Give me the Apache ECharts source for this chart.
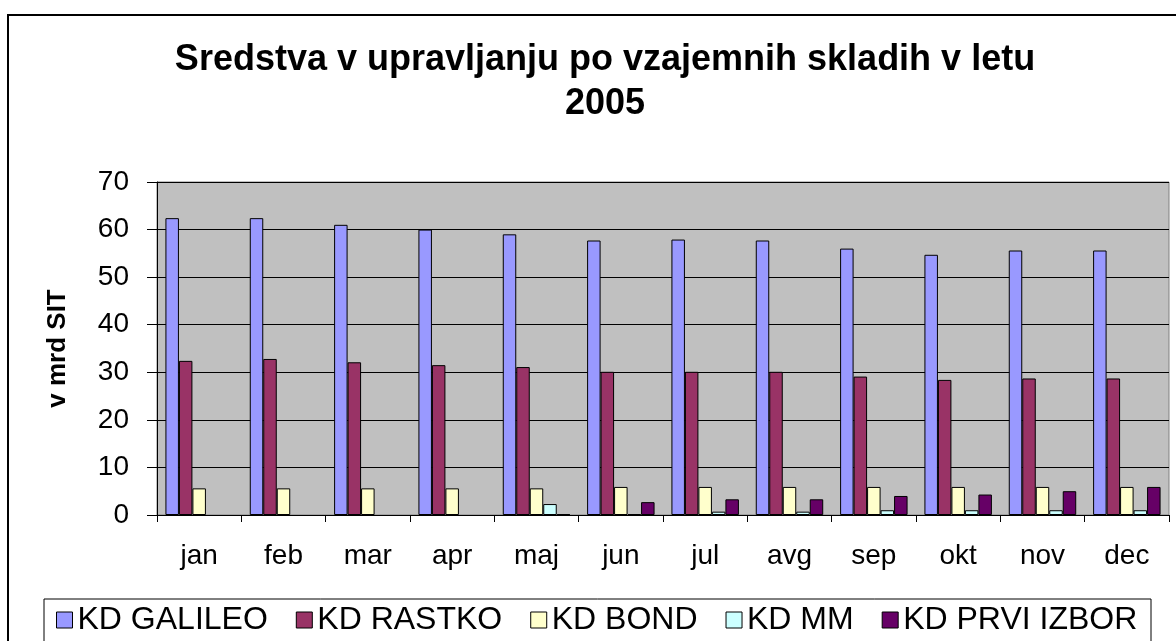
<!DOCTYPE html>
<html>
<head>
<meta charset="utf-8">
<script src="https://cdn.jsdelivr.net/npm/echarts@6/dist/echarts.min.js"></script>
<style>
  html, body { margin: 0; padding: 0; background: #fff; }
  #chart { width: 1176px; height: 641px; }
</style>
</head>
<body>
<div id="chart"></div>
<script>
  // mesecni podatki, v mrd SIT
  var months = ['jan', 'feb', 'mar', 'apr', 'maj', 'jun', 'jul', 'avg', 'sep', 'okt', 'nov', 'dec'];
  var galileo = [62.4, 62.4, 61.0, 60.0, 59.0, 57.7, 57.9, 57.7, 56.0, 54.7, 55.6, 55.6];
  var rastko = [32.4, 32.8, 32.1, 31.5, 31.1, 30.1, 30.1, 30.1, 29.1, 28.4, 28.7, 28.7];
  var bond = [5.6, 5.6, 5.6, 5.6, 5.6, 5.9, 5.9, 5.9, 5.9, 5.9, 5.9, 5.9];
  var mm = [null, null, null, null, 2.3, 0.2, 0.7, 0.7, 1.0, 1.0, 1.0, 1.0];
  var prviIzbor = [null, null, null, null, 0.2, 2.7, 3.3, 3.3, 4.0, 4.3, 5.0, 5.9];
  var yTicks = [0, 10, 20, 30, 40, 50, 60, 70];

  var seriesNames = ['KD GALILEO', 'KD RASTKO', 'KD BOND', 'KD MM', 'KD PRVI IZBOR'];
  var seriesData = [galileo, rastko, bond, mm, prviIzbor];
  var colors = ['#9999FF', '#993366', '#FFFFCC', '#CCFFFF', '#660066'];

  var font = '"Liberation Sans", Arial, sans-serif';
  var myChart = echarts.init(document.getElementById('chart'));

  var series = seriesNames.map(function (name, i) {
    return {
      name: name,
      type: 'bar',
      data: seriesData[i],
      barGap: '0%',
      barCategoryGap: '20%',
      itemStyle: {
        color: colors[i],
        borderColor: '#000',
        borderWidth: 1
      },
      emphasis: { disabled: true }
    };
  });

  var option = {
    animation: false,
    backgroundColor: '#fff',
    color: colors,
    title: {
      text: 'Sredstva v upravljanju po vzajemnih skladih v letu\n2005',
      left: 600,
      top: 33,
      textAlign: 'center',
      textStyle: {
        fontFamily: font,
        fontWeight: 'bold',
        fontSize: 36,
        lineHeight: 44,
        color: '#000'
      }
    },
    graphic: [
      {
        // okvir grafa
        type: 'rect',
        shape: { x: 8, y: 15, width: 1200, height: 700 },
        style: { fill: 'none', stroke: '#000', lineWidth: 2 },
        silent: true
      },
      {
        // okvir legende
        type: 'rect',
        shape: { x: 44, y: 599, width: 1107, height: 60 },
        style: { fill: '#fff', stroke: '#000', lineWidth: 1 },
        silent: true,
        z: -1
      }
    ],
    legend: {
      data: seriesNames,
      left: 56,
      top: 604,
      padding: 0,
      itemGap: 28,
      itemWidth: 16,
      itemHeight: 16,
      icon: 'rect',
      itemStyle: { borderColor: '#000', borderWidth: 1 },
      textStyle: {
        fontFamily: font,
        fontSize: 32,
        color: '#000'
      }
    },
    grid: {
      left: 157,
      right: 7,
      top: 182,
      bottom: 126,
      show: true,
      backgroundColor: '#C0C0C0',
      borderColor: '#808080',
      borderWidth: 1
    },
    xAxis: {
      type: 'category',
      data: months,
      axisLine: { lineStyle: { color: '#000', width: 1 } },
      axisTick: { show: true, length: 7, lineStyle: { color: '#000' } },
      axisLabel: {
        margin: 27,
        fontFamily: font,
        fontSize: 28,
        color: '#000'
      },
      splitLine: { show: false }
    },
    yAxis: {
      type: 'value',
      min: yTicks[0],
      max: yTicks[yTicks.length - 1],
      interval: 10,
      name: 'v mrd SIT',
      nameLocation: 'middle',
      nameGap: 86,
      nameTextStyle: {
        fontFamily: font,
        fontWeight: 'bold',
        fontSize: 26,
        color: '#000'
      },
      axisLine: { show: true, lineStyle: { color: '#000', width: 1 } },
      axisTick: { show: true, length: 10, lineStyle: { color: '#000' } },
      axisLabel: {
        margin: 28,
        fontFamily: font,
        fontSize: 28,
        color: '#000'
      },
      splitLine: { show: true, lineStyle: { color: '#000', width: 1 } }
    },
    series: series
  };

  myChart.setOption(option);
</script>
</body>
</html>
